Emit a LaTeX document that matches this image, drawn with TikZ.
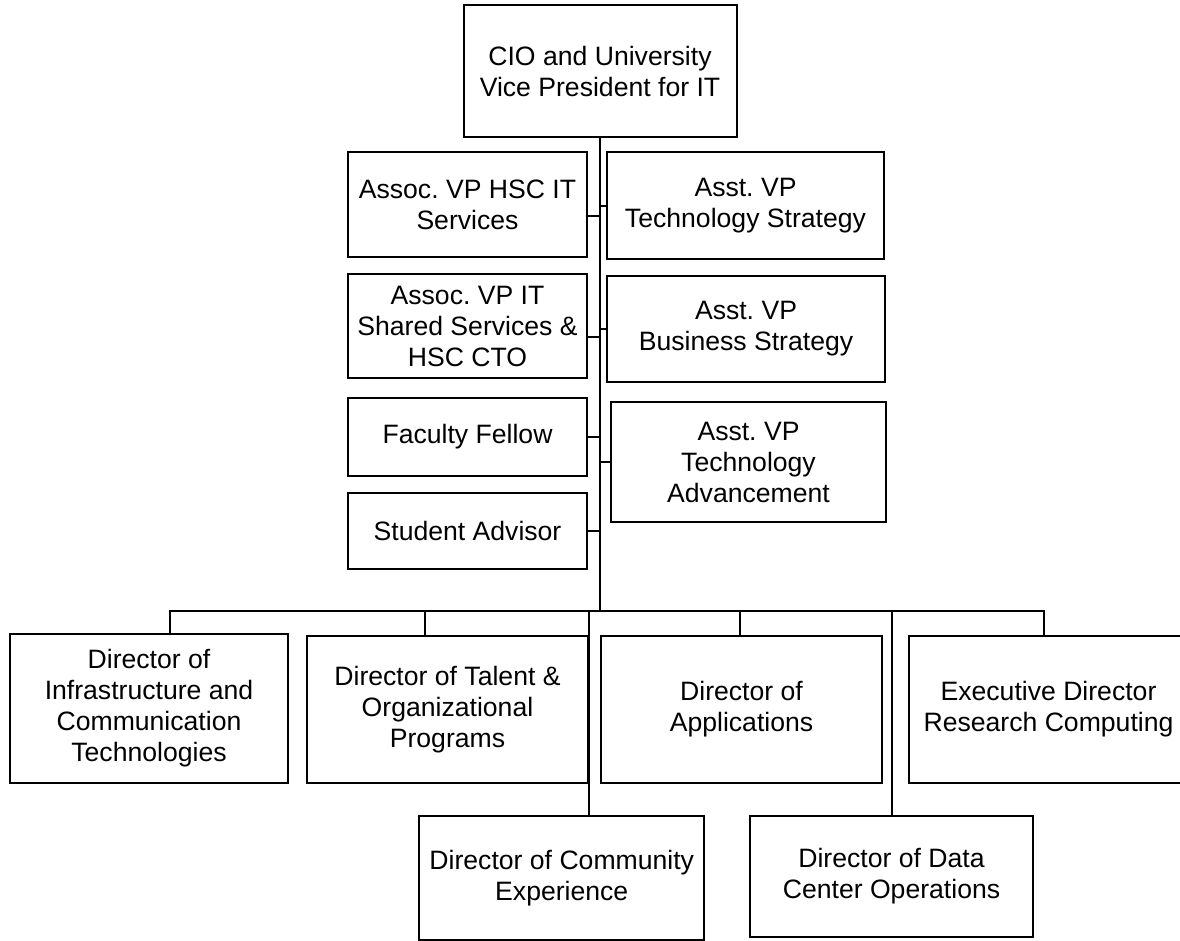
\documentclass[tikz,border=0pt]{standalone}
\usepackage{fontspec}
\setmainfont{Liberation Sans}
\usepackage{tikz}
\frenchspacing

\tikzset{
  box/.style={draw, line width=2pt, align=center, inner sep=0pt,
    font=\fontsize{26.6pt}{31pt}\selectfont},
  link/.style={line width=2pt, line cap=rect}
}

\begin{document}
\begin{tikzpicture}[x=1pt,y=-1pt]
\useasboundingbox (0,0) rectangle (1180,940);

\node[box, minimum width=273pt, minimum height=132pt] (cio) at (600,71) {CIO and University\\Vice President for IT};

% left column
\node[box, minimum width=239pt, minimum height=105pt] (hscit) at (467.5,204.5) {Assoc. VP HSC IT\\Services};
\node[box, minimum width=239pt, minimum height=104pt] (shared) at (467.5,326) {Assoc. VP IT\\Shared Services \&\\HSC CTO};
\node[box, minimum width=239pt, minimum height=78pt] (fellow) at (467.5,437) {Faculty Fellow};
\node[box, minimum width=239pt, minimum height=76pt] (advisor) at (467.5,531) {Student Advisor};

% right column
\node[box, minimum width=277pt, minimum height=107pt] (techstrat) at (745.5,205.5) {Asst. VP\\Technology Strategy};
\node[box, minimum width=278pt, minimum height=106pt] (busstrat) at (746,329) {Asst. VP\\Business Strategy};
\node[box, minimum width=275pt, minimum height=120pt] (techadv) at (748.5,462) {Asst. VP\\Technology\\Advancement};

% directors
\node[box, minimum width=278pt, minimum height=149pt] (infra) at (149,708.5) {Director of\\Infrastructure and\\Communication\\Technologies};
\node[box, minimum width=281pt, minimum height=147pt] (talent) at (447.5,709.5) {Director of Talent \&\\Organizational\\Programs};
\node[box, minimum width=281pt, minimum height=147pt] (apps) at (741.5,709.5) {Director of\\Applications};
\node[box, minimum width=279pt, minimum height=147pt] (research) at (1048.5,709.5) {Executive Director\\Research Computing};
\node[box, minimum width=285pt, minimum height=124pt] (community) at (561.75,878) {Director of Community\\Experience};
\node[box, minimum width=283pt, minimum height=121pt] (dcops) at (891.5,876.5) {Director of Data\\Center Operations};

% trunk and ticks
\coordinate (bar-w) at (170,611);
\coordinate (bar-e) at (1044,611);
\draw[link] (cio.south) -- (cio.south |- bar-w);
\draw[link] ([yshift=-11.5pt]hscit.east) -- ([yshift=-11.5pt]hscit.east -| cio.south);
\draw[link] ([yshift=-11pt]shared.east) -- ([yshift=-11pt]shared.east -| cio.south);
\foreach \n in {fellow,advisor}
   \draw[link] (\n.east) -- (\n.east -| cio.south);
\foreach \n in {techstrat,busstrat,techadv}
   \draw[link] (\n.west) -- (\n.west -| cio.south);

% bar and drops
\draw[link] (bar-w) -- (bar-e);
\foreach \n/\x in {infra/170, talent/425, apps/740, research/1044, community/589, dcops/892} {
   \coordinate (\n-top) at (\x,611);
   \draw[link] (\n-top) -- (\n-top |- \n.north);
}

\end{tikzpicture}
\end{document}
